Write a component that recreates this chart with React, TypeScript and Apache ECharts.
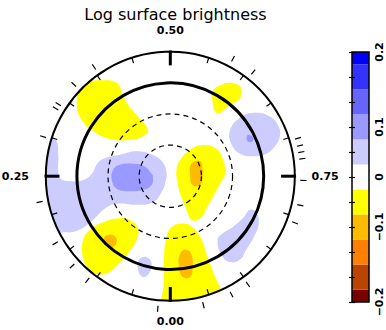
import React, { useEffect, useRef } from "react";
import * as echarts from "echarts";

// ---- colour scale (contour level edges and fills) ----
const levelEdges = [-0.25, -0.225, -0.175, -0.125, -0.075, -0.025, 0.025, 0.075, 0.125, 0.175, 0.225, 0.25];
const levelColors = ["#770000", "#bb4400", "#ff7f00", "#ffbb00", "#ffff00", "#ffffff", "#ccccff", "#9999ff", "#6666ff", "#3333ff", "#0000ff"];

// colour bar tick labels
const cbLabelValues = [0.25, 0.1, 0, -0.1, -0.25];
const cbLabelTexts = ["0.2", "0.1", "0", "\u22120.1", "\u22120.2"];

// phase axis labels
const phaseLabelValues = [0, 0.25, 0.5, 0.75];
const phaseLabelTexts = ["0.00", "0.25", "0.50", "0.75"];

// reference rings (units of outer radius)
const ringRadii = [0.25, 0.5, 0.75, 1.0];

// observed phases (outer ticks)
const observedPhases = [0.015, 0.107, 0.132, 0.166, 0.219, 0.298, 0.335, 0.341, 0.371, 0.403, 0.578, 0.607, 0.704, 0.713, 0.721, 0.729, 0.755, 0.785, 0.807, 0.901, 0.924, 0.96];

// ---- contour regions: [x, y] in units of the outer radius ----
const leftBlue = [[-1.06, 0.39], [-0.92, 0.29], [-0.9, 0.17], [-0.9, 0.04], [-0.88, -0.02], [-0.8, -0.04], [-0.7, -0.03], [-0.63, 0.02], [-0.58, 0.11], [-0.51, 0.15], [-0.41, 0.17], [-0.27, 0.2], [-0.14, 0.17], [-0.06, 0.11], [-0.03, 0.03], [-0.04, -0.05], [-0.06, -0.11], [-0.14, -0.21], [-0.27, -0.23], [-0.41, -0.22], [-0.51, -0.25], [-0.62, -0.35], [-0.73, -0.43], [-0.83, -0.45], [-0.97, -0.43], [-1.07, -0.19], [-1.07, 0.21]];
const centerBlueCore = [[-0.46, 0.05], [-0.41, 0.09], [-0.3, 0.1], [-0.21, 0.08], [-0.15, 0.02], [-0.14, 0.0], [-0.15, -0.07], [-0.22, -0.11], [-0.33, -0.12], [-0.43, -0.1], [-0.47, -0.03]];
const rightBlue = [[0.48, 0.37], [0.56, 0.47], [0.67, 0.51], [0.8, 0.48], [0.87, 0.4], [0.88, 0.32], [0.84, 0.24], [0.77, 0.18], [0.67, 0.16], [0.56, 0.18], [0.49, 0.26]];
const rightBlueCore = [[0.62, 0.33], [0.66, 0.32], [0.66, 0.28], [0.62, 0.28]];
const lowerRightBlue = [[0.38, -0.51], [0.42, -0.46], [0.5, -0.41], [0.59, -0.33], [0.64, -0.27], [0.69, -0.29], [0.71, -0.38], [0.67, -0.49], [0.61, -0.59], [0.56, -0.67], [0.48, -0.69], [0.41, -0.63]];
const bottomSmallBlue = [[-0.25, -0.67], [-0.19, -0.65], [-0.15, -0.7], [-0.17, -0.78], [-0.22, -0.81], [-0.26, -0.75]];
const topLeftYellow = [[-0.73, 0.7], [-0.67, 0.75], [-0.57, 0.77], [-0.43, 0.75], [-0.38, 0.65], [-0.33, 0.56], [-0.25, 0.47], [-0.18, 0.37], [-0.22, 0.32], [-0.33, 0.29], [-0.49, 0.3], [-0.63, 0.37], [-0.71, 0.45], [-0.75, 0.56]];
const topRightYellow = [[0.34, 0.68], [0.4, 0.73], [0.48, 0.75], [0.56, 0.72], [0.57, 0.65], [0.53, 0.6], [0.46, 0.56], [0.4, 0.51], [0.36, 0.52], [0.34, 0.6]];
const centerYellow = [[0.05, 0.05], [0.08, 0.13], [0.16, 0.21], [0.26, 0.25], [0.37, 0.22], [0.42, 0.14], [0.44, 0.02], [0.4, -0.06], [0.34, -0.17], [0.29, -0.26], [0.24, -0.34], [0.17, -0.35], [0.13, -0.27], [0.09, -0.17], [0.06, -0.06]];
const centerOrange = [[0.17, 0.1], [0.24, 0.12], [0.26, 0.05], [0.26, 0.0], [0.24, -0.07], [0.18, -0.07], [0.16, 0.0]];
const lowerLeftYellow = [[-0.7, -0.51], [-0.63, -0.42], [-0.54, -0.37], [-0.43, -0.34], [-0.33, -0.35], [-0.26, -0.42], [-0.27, -0.51], [-0.34, -0.62], [-0.41, -0.7], [-0.49, -0.77], [-0.57, -0.79], [-0.65, -0.75], [-0.7, -0.66]];
const lowerLeftOrange = [[-0.53, -0.49], [-0.47, -0.47], [-0.43, -0.51], [-0.46, -0.57], [-0.51, -0.56]];
const bottomYellow = [[-0.03, -0.49], [0.01, -0.41], [0.1, -0.38], [0.18, -0.41], [0.25, -0.51], [0.3, -0.65], [0.36, -0.81], [0.42, -0.96], [0.4, -1.08], [-0.04, -1.08], [-0.05, -0.83], [-0.05, -0.65]];
const bottomOrange = [[0.08, -0.62], [0.13, -0.59], [0.17, -0.63], [0.18, -0.73], [0.16, -0.81], [0.1, -0.81], [0.07, -0.73]];

const contours = [
  { level: 0.05, points: leftBlue },
  { level: 0.1, points: centerBlueCore },
  { level: 0.05, points: rightBlue },
  { level: 0.1, points: rightBlueCore },
  { level: 0.05, points: lowerRightBlue },
  { level: 0.05, points: bottomSmallBlue },
  { level: -0.05, points: topLeftYellow },
  { level: -0.05, points: topRightYellow },
  { level: -0.05, points: centerYellow },
  { level: -0.1, points: centerOrange },
  { level: -0.05, points: lowerLeftYellow },
  { level: -0.1, points: lowerLeftOrange },
  { level: -0.05, points: bottomYellow },
  { level: -0.1, points: bottomOrange },
];

function colorFor(v: number): string {
  for (let i = 0; i < levelColors.length; i++) {
    if (v >= levelEdges[i] && v < levelEdges[i + 1]) return levelColors[i];
  }
  return "#ffffff";
}

const FONT = "DejaVu Sans";

export default function App() {
  const ref = useRef<HTMLDivElement>(null);
  useEffect(() => {
    document.body.style.margin = "0";
    const chart = echarts.init(ref.current!, null, { renderer: "svg" });
    const option: any = {
      animation: false,
      title: {
        text: "Log surface brightness",
        left: 170.5,
        top: 0,
        textAlign: "center",
        textStyle: { fontFamily: FONT, fontSize: 16, fontWeight: "normal", color: "#000", lineHeight: 18 },
      },
      grid: [
        { left: 20.9, top: 26.8, width: 298.8, height: 298.8, show: false },
        { left: 352, top: 52, width: 17, height: 250, show: false },
      ],
      xAxis: [
        { type: "value", gridIndex: 0, min: -1.2, max: 1.2, show: false },
        { type: "value", gridIndex: 1, min: 0, max: 1, show: false },
      ],
      yAxis: [
        { type: "value", gridIndex: 0, min: -1.2, max: 1.2, show: false },
        {
          type: "value", gridIndex: 1, min: -0.25, max: 0.25, interval: 0.05, position: "right", z: 5,
          axisLine: { show: false },
          splitLine: { show: false },
          axisTick: { show: true, inside: true, length: 3, lineStyle: { color: "#000", width: 1.2 } },
          axisLabel: {
            rotate: 90, margin: 5, color: "#000", fontFamily: FONT, fontSize: 11, fontWeight: "bold",
            formatter: (v: number) => {
              const i = cbLabelValues.findIndex((x) => Math.abs(x - v) < 1e-6);
              return i >= 0 ? cbLabelTexts[i] : "";
            },
          },
        },
        {
          type: "value", gridIndex: 1, min: -0.25, max: 0.25, interval: 0.05, position: "left", z: 5,
          axisLine: { show: false },
          splitLine: { show: false },
          axisTick: { show: true, inside: true, length: 3, lineStyle: { color: "#000", width: 1.2 } },
          axisLabel: { show: false },
        },
      ],
      series: [
        {
          type: "custom",
          xAxisIndex: 0,
          yAxisIndex: 0,
          silent: true,
          data: contours.map((c, i) => [c.points[0][0], c.points[0][1], i]),
          renderItem: (params: any, api: any) => {
            const c = contours[params.dataIndex];
            const pts = c.points.map((p) => api.coord(p));
            return {
              type: "polygon",
              shape: { points: pts, smooth: 0.45 },
              style: { fill: colorFor(c.level), stroke: null },
            };
          },
        },
        {
          type: "custom",
          xAxisIndex: 0,
          yAxisIndex: 0,
          silent: true,
          data: [[0, 0]],
          renderItem: (params: any, api: any) => {
            const c = api.coord([0, 0]);
            const unit = api.coord([1, 0])[0] - c[0];
            const pt = (r: number, p: number) => [
              c[0] - r * unit * Math.sin(2 * Math.PI * p),
              c[1] + r * unit * Math.cos(2 * Math.PI * p),
            ];
            const children: any[] = [];
            children.push({
              type: "ring",
              shape: { cx: c[0], cy: c[1], r0: unit, r: unit * 1.3 },
              style: { fill: "#ffffff" },
            });
            ringRadii.forEach((r, i) => {
              const style: any = { fill: null, stroke: "#000" };
              if (i < 2) { style.lineWidth = 1.2; style.lineDash = [5, 4]; }
              else if (i === 2) { style.lineWidth = 3; }
              else { style.lineWidth = 2; }
              children.push({ type: "circle", shape: { cx: c[0], cy: c[1], r: r * unit }, style });
            });
            for (let k = 1; k < 20; k++) {
              if (k % 5 === 0) continue;
              const p = k * 0.05;
              const a = pt(0.955, p), b = pt(1.0, p);
              children.push({ type: "line", shape: { x1: a[0], y1: a[1], x2: b[0], y2: b[1] }, style: { stroke: "#000", lineWidth: 1.2 } });
            }
            phaseLabelValues.forEach((p, i) => {
              const a = pt(0.89, p), b = pt(1.01, p);
              children.push({ type: "line", shape: { x1: a[0], y1: a[1], x2: b[0], y2: b[1] }, style: { stroke: "#000", lineWidth: 3 } });
              const sx = -Math.sin(2 * Math.PI * p), sy = Math.cos(2 * Math.PI * p);
              const horizontal = Math.abs(sx) > 0.5;
              const q = pt(horizontal ? 1.135 : 1.17, p);
              children.push({
                type: "text",
                x: q[0],
                y: q[1],
                style: {
                  text: phaseLabelTexts[i],
                  fill: "#000",
                  font: `bold 11px '${FONT}'`,
                  align: sx < -0.5 ? "right" : sx > 0.5 ? "left" : "center",
                  verticalAlign: "middle",
                },
              });
            });
            observedPhases.forEach((p) => {
              const a = pt(1.045, p), b = pt(1.095, p);
              children.push({ type: "line", shape: { x1: a[0], y1: a[1], x2: b[0], y2: b[1] }, style: { stroke: "#000", lineWidth: 1.2 } });
            });
            return { type: "group", children };
          },
        },
        {
          type: "custom",
          xAxisIndex: 1,
          yAxisIndex: 1,
          silent: true,
          data: levelColors.map((_, i) => [0.5, (levelEdges[i] + levelEdges[i + 1]) / 2]),
          renderItem: (params: any, api: any) => {
            const i = params.dataIndex;
            const p0 = api.coord([0, levelEdges[i + 1]]);
            const p1 = api.coord([1, levelEdges[i]]);
            return {
              type: "rect",
              shape: { x: p0[0], y: p0[1], width: p1[0] - p0[0], height: p1[1] - p0[1] },
              style: { fill: levelColors[i], stroke: null },
            };
          },
        },
        {
          type: "custom",
          xAxisIndex: 1,
          yAxisIndex: 1,
          silent: true,
          z: 3,
          data: [[0.5, 0]],
          renderItem: (params: any, api: any) => {
            const p0 = api.coord([0, levelEdges[levelEdges.length - 1]]);
            const p1 = api.coord([1, levelEdges[0]]);
            return {
              type: "rect",
              shape: { x: p0[0], y: p0[1], width: p1[0] - p0[0], height: p1[1] - p0[1] },
              style: { fill: null, stroke: "#000", lineWidth: 1.5 },
            };
          },
        },
      ],
    };
    chart.setOption(option);
    return () => chart.dispose();
  }, []);
  return <div ref={ref} style={{ width: 386, height: 330 }} />;
}
